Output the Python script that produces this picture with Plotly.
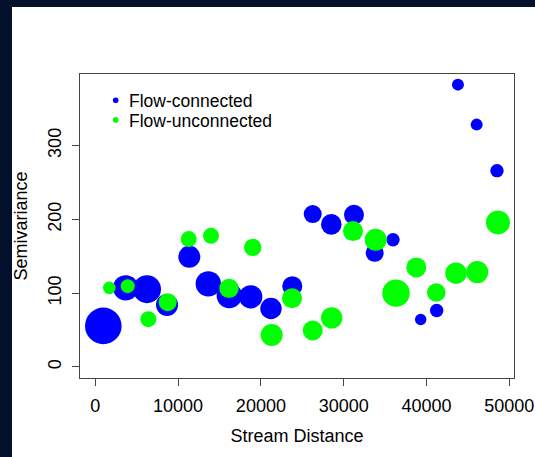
import plotly.graph_objects as go

# Empirical semivariogram: lag distance, semivariance and number of pairs per lag bin
dist_fc = [966, 3670, 6244, 8660, 11353, 13647, 16184, 18768, 21220, 23792,
           26256, 28502, 31244, 33744, 35954, 39300, 41232, 43800, 46060, 48514]
gam_fc = [55.6, 107.2, 105.4, 84.1, 149.3, 112.6, 96.9, 95.0, 79.2, 109.5,
          207.2, 193.2, 206.2, 154.7, 172.3, 64.3, 76.5, 382.6, 328.4, 266.0]
np_fc = [366, 254, 280, 220, 220, 254, 254, 234, 214, 200,
         180, 206, 200, 180, 134, 114, 134, 120, 120, 134]

dist_fu = [1691, 3913, 6401, 8744, 11280, 13973, 16147, 19010, 21300, 23756,
           26256, 28550, 31123, 33865, 36316, 38768, 41184, 43563, 46135, 48635]
gam_fu = [107.2, 109.5, 64.7, 87.8, 173.3, 177.7, 106.4, 162.0, 43.4, 93.2,
          49.4, 66.5, 184.1, 172.3, 100.0, 134.9, 100.9, 127.1, 128.5, 195.9]
np_fu = [126, 140, 160, 180, 160, 160, 194, 174, 220, 200,
         200, 214, 200, 220, 274, 200, 186, 214, 220, 240]

series_names = ["Flow-connected", "Flow-unconnected"]
x_ticks = [0, 10000, 20000, 30000, 40000, 50000]
y_ticks = [0, 100, 200, 300]

BLUE = "#0000FF"
GREEN = "#00FF00"
FONT = "Liberation Sans, Arial, Helvetica, sans-serif"
W, H = 535, 457
ML, MR, MT, MB = 80, 21, 74, 79

fig = go.Figure()
for name, xs, ys, npairs, col in [
    (series_names[0], dist_fc, gam_fc, np_fc, BLUE),
    (series_names[1], dist_fu, gam_fu, np_fu, GREEN),
]:
    fig.add_trace(go.Scatter(
        x=xs, y=ys, mode="markers", name=name, showlegend=False,
        marker=dict(size=npairs, sizemode="diameter", sizeref=10,
                    color=col, opacity=1, line=dict(width=0)),
        hoverinfo="x+y",
    ))

pw = W - ML - MR
ph = H - MT - MB

def px_x(p):
    return (p - ML) / pw

def px_y(p):
    return (H - MB - p) / ph

shapes = [
    # dark frame strips around the white panel
    dict(type="rect", xref="paper", yref="paper", x0=px_x(0), x1=px_x(12),
         y0=px_y(H), y1=px_y(0), fillcolor="#03102b", line=dict(width=0), layer="above"),
    dict(type="rect", xref="paper", yref="paper", x0=px_x(0), x1=px_x(W),
         y0=px_y(7), y1=px_y(0), fillcolor="#03102b", line=dict(width=0), layer="above"),
]

# compact key in the upper-left corner of the panel
key_font = 17.5
row_gap = 19.6
key_mid = 110.9
annotations = []
for i, (name, col) in enumerate(zip(series_names, [BLUE, GREEN])):
    yc = key_mid + (i - 0.5) * row_gap
    shapes.append(dict(type="circle", xref="paper", yref="paper",
                       xsizemode="pixel", ysizemode="pixel",
                       xanchor=px_x(115.7), yanchor=px_y(yc - 0.8),
                       x0=-2.8, x1=2.8, y0=-2.8, y1=2.8,
                       fillcolor=col, line=dict(width=0)))
    annotations.append(dict(xref="paper", yref="paper", x=px_x(126.5), y=px_y(yc),
                            xanchor="left", yanchor="middle", showarrow=False,
                            text=name, font=dict(family=FONT, size=key_font, color="#000")))

axis_common = dict(
    showgrid=False, zeroline=False, showline=True, mirror=True, automargin=False,
    linecolor="#444", linewidth=1.3, ticks="outside", ticklen=7,
    tickcolor="#444", tickwidth=1, tickfont=dict(family=FONT, size=18, color="#000"),
)

fig.update_layout(
    width=W, height=H, autosize=False,
    margin=dict(l=ML, r=MR, t=MT, b=MB, autoexpand=False),
    paper_bgcolor="white", plot_bgcolor="white",
    showlegend=False,
    shapes=shapes, annotations=annotations,
    xaxis=dict(range=[-1850, 50570], tickvals=x_ticks,
               ticktext=[str(v) for v in x_ticks], ticklabelstandoff=4,
               title=dict(text="Stream Distance", font=dict(family=FONT, size=18, color="#000"),
                          standoff=14),
               **axis_common),
    yaxis=dict(range=[-15, 397], tickvals=y_ticks,
               ticktext=[str(v) for v in y_ticks], tickangle=-90, ticklabelstandoff=4,
               title=dict(text="Semivariance", font=dict(family=FONT, size=18, color="#000"),
                          standoff=12),
               **axis_common),
)

fig.write_html("out.html", config={"responsive": False, "displayModeBar": False})
